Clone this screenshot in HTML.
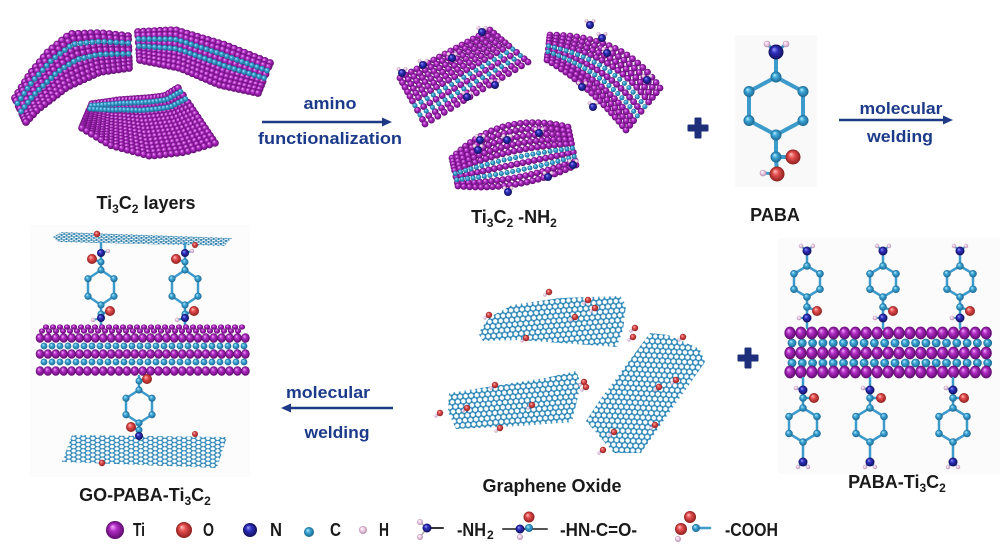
<!DOCTYPE html>
<html><head><meta charset="utf-8">
<style>
html,body{margin:0;padding:0;background:#fff;}
svg{display:block;}
text{font-family:"Liberation Sans",Arial,sans-serif;font-weight:bold;}
</style></head><body>
<svg id="s" width="1005" height="554" viewBox="0 0 1005 554" xmlns="http://www.w3.org/2000/svg">
<defs>
<radialGradient id="gTi" cx="0.5" cy="0.5" r="0.5" fx="0.35" fy="0.3"><stop offset="0" stop-color="#f2b0fa"/><stop offset="0.4" stop-color="#b32cc6"/><stop offset="1" stop-color="#5c0a6c"/></radialGradient>
<radialGradient id="gC" cx="0.5" cy="0.5" r="0.5" fx="0.35" fy="0.3"><stop offset="0" stop-color="#c0f0ff"/><stop offset="0.4" stop-color="#3fa9d9"/><stop offset="1" stop-color="#1b6690"/></radialGradient>
<radialGradient id="gN" cx="0.5" cy="0.5" r="0.5" fx="0.35" fy="0.3"><stop offset="0" stop-color="#a0a0ff"/><stop offset="0.4" stop-color="#3030c0"/><stop offset="1" stop-color="#10105a"/></radialGradient>
<radialGradient id="gO" cx="0.5" cy="0.5" r="0.5" fx="0.35" fy="0.3"><stop offset="0" stop-color="#ffc4c4"/><stop offset="0.4" stop-color="#e65050"/><stop offset="1" stop-color="#8e1e1e"/></radialGradient>
<radialGradient id="gH" cx="0.5" cy="0.5" r="0.5" fx="0.35" fy="0.3"><stop offset="0" stop-color="#ffffff"/><stop offset="0.45" stop-color="#f2d2ea"/><stop offset="1" stop-color="#b48cac"/></radialGradient>
<pattern id="hc" width="5.54" height="9.6" patternUnits="userSpaceOnUse" patternTransform="rotate(-5)">
<path d="M0,1.6L2.77,0L5.54,1.6M0,1.6L0,4.8M5.54,1.6L5.54,4.8M0,4.8L2.77,6.4L5.54,4.8M2.77,6.4L2.77,9.6" stroke="#3a98c8" stroke-width="1.4" fill="none"/>
<g fill="#2a80b0"><circle cx="2.77" cy="0" r="1.1"/><circle cx="2.77" cy="6.4" r="1.1"/><circle cx="2.77" cy="9.6" r="1.1"/><circle cx="0" cy="1.6" r="1.1"/><circle cx="5.54" cy="1.6" r="1.1"/><circle cx="0" cy="4.8" r="1.1"/><circle cx="5.54" cy="4.8" r="1.1"/></g>
</pattern>
<pattern id="hc3" width="5.54" height="9.6" patternUnits="userSpaceOnUse" patternTransform="rotate(-57)">
<path d="M0,1.6L2.77,0L5.54,1.6M0,1.6L0,4.8M5.54,1.6L5.54,4.8M0,4.8L2.77,6.4L5.54,4.8M2.77,6.4L2.77,9.6" stroke="#3a98c8" stroke-width="1.4" fill="none"/>
<g fill="#2a80b0"><circle cx="2.77" cy="0" r="1.1"/><circle cx="2.77" cy="6.4" r="1.1"/><circle cx="2.77" cy="9.6" r="1.1"/><circle cx="0" cy="1.6" r="1.1"/><circle cx="5.54" cy="1.6" r="1.1"/><circle cx="0" cy="4.8" r="1.1"/><circle cx="5.54" cy="4.8" r="1.1"/></g>
</pattern>
<pattern id="hct" width="5.54" height="9.6" patternUnits="userSpaceOnUse" patternTransform="rotate(2) scale(0.9,0.35)">
<path d="M0,1.6L2.77,0L5.54,1.6M0,1.6L0,4.8M5.54,1.6L5.54,4.8M0,4.8L2.77,6.4L5.54,4.8M2.77,6.4L2.77,9.6" stroke="#2f8fc0" stroke-width="1.4" fill="none"/>
<g fill="#1f6f9c"><circle cx="2.77" cy="0" r="1.2"/><circle cx="2.77" cy="6.4" r="1.2"/><circle cx="0" cy="1.6" r="1.2"/><circle cx="5.54" cy="1.6" r="1.2"/><circle cx="0" cy="4.8" r="1.2"/><circle cx="5.54" cy="4.8" r="1.2"/></g>
</pattern>
<pattern id="hcb" width="5.54" height="9.6" patternUnits="userSpaceOnUse" patternTransform="rotate(90) scale(0.75,1)">
<path d="M0,1.6L2.77,0L5.54,1.6M0,1.6L0,4.8M5.54,1.6L5.54,4.8M0,4.8L2.77,6.4L5.54,4.8M2.77,6.4L2.77,9.6" stroke="#3a98c8" stroke-width="1.3" fill="none"/>
<g fill="#2a80b0"><circle cx="2.77" cy="0" r="1.1"/><circle cx="2.77" cy="6.4" r="1.1"/><circle cx="2.77" cy="9.6" r="1.1"/><circle cx="0" cy="1.6" r="1.1"/><circle cx="5.54" cy="1.6" r="1.1"/><circle cx="0" cy="4.8" r="1.1"/><circle cx="5.54" cy="4.8" r="1.1"/></g>
</pattern>
</defs>

<!-- faint panels -->
<rect x="735" y="35" width="82" height="152" fill="#f9f9f9"/>
<rect x="778" y="238" width="222" height="236" fill="#fbfbfb"/>
<rect x="30" y="225" width="220" height="252" fill="#fcfcfc"/>

<!-- graphene sheets -->
<polygon points="478,333 490,317 512,305 560,298 620,296 626,305 623,330 617,347 560,343 520,340 483,341" fill="url(#hc)"/>
<polygon points="449,393 500,385 545,378 576,371 581,384 572,422 520,426 456,429 448,412" fill="url(#hc)"/>
<polygon points="650,333 668,335 700,349 705,362 641,453 614,453 586,421 600,400" fill="url(#hc3)"/>
<polygon points="53,237 62,232 232,238 224,246 58,242" fill="url(#hct)"/>
<polygon points="72,435 227,437 217,468 62,462" fill="url(#hcb)"/>

<!-- plus signs -->
<g fill="#1d2f7a">
<rect x="687.5" y="124.5" width="21" height="7" rx="1"/><rect x="694.5" y="117.5" width="7" height="21" rx="1"/>
<rect x="737.5" y="354.5" width="21" height="7" rx="1"/><rect x="744.5" y="347.5" width="7" height="21" rx="1"/>
</g>

<!-- arrows -->
<g stroke="#1f3a85" stroke-width="2.5" fill="none">
<line x1="262" y1="122" x2="384" y2="122"/>
<line x1="839" y1="120" x2="945" y2="120"/>
<line x1="289" y1="408" x2="393" y2="408"/>
</g>
<g fill="#1f3a85">
<polygon points="392,122 382,117.5 382,126.5"/>
<polygon points="953,120 943,115.5 943,124.5"/>
<polygon points="281,408 291,403.5 291,412.5"/>
</g>

<g id="mol"></g>

<!-- arrow texts -->
<g fill="#1c3a8a" font-size="17">
<text x="330" y="109" text-anchor="middle" textLength="53" lengthAdjust="spacingAndGlyphs">amino</text>
<text x="330" y="144" text-anchor="middle" textLength="144" lengthAdjust="spacingAndGlyphs">functionalization</text>
<text x="901" y="114" text-anchor="middle" textLength="83" lengthAdjust="spacingAndGlyphs">molecular</text>
<text x="900" y="142" text-anchor="middle" textLength="66" lengthAdjust="spacingAndGlyphs">welding</text>
<text x="328" y="398" text-anchor="middle" textLength="84" lengthAdjust="spacingAndGlyphs">molecular</text>
<text x="337" y="438" text-anchor="middle" textLength="65" lengthAdjust="spacingAndGlyphs">welding</text>
</g>

<!-- labels -->
<g fill="#1a1a1a" font-size="18">
<text x="146" y="209" text-anchor="middle">Ti<tspan font-size="12" dy="4">3</tspan><tspan dy="-4">C</tspan><tspan font-size="12" dy="4">2</tspan><tspan dy="-4"> layers</tspan></text>
<text x="514" y="223" text-anchor="middle">Ti<tspan font-size="12" dy="4">3</tspan><tspan dy="-4">C</tspan><tspan font-size="12" dy="4">2</tspan><tspan dy="-4"> -NH</tspan><tspan font-size="12" dy="4">2</tspan></text>
<text x="775" y="221" text-anchor="middle">PABA</text>
<text x="145" y="501" text-anchor="middle">GO-PABA-Ti<tspan font-size="12" dy="4">3</tspan><tspan dy="-4">C</tspan><tspan font-size="12" dy="4">2</tspan></text>
<text x="552" y="492" text-anchor="middle">Graphene Oxide</text>
<text x="897" y="488" text-anchor="middle">PABA-Ti<tspan font-size="12" dy="4">3</tspan><tspan dy="-4">C</tspan><tspan font-size="12" dy="4">2</tspan></text>
</g>

<!-- legend text -->
<g fill="#1a1a1a" font-size="18">
<text x="133" y="536" textLength="12" lengthAdjust="spacingAndGlyphs">Ti</text>
<text x="203" y="536" textLength="11" lengthAdjust="spacingAndGlyphs">O</text>
<text x="270" y="536" textLength="12" lengthAdjust="spacingAndGlyphs">N</text>
<text x="330" y="536" textLength="11" lengthAdjust="spacingAndGlyphs">C</text>
<text x="379" y="536" textLength="10" lengthAdjust="spacingAndGlyphs">H</text>
<text x="457" y="536" textLength="29" lengthAdjust="spacingAndGlyphs">-NH</text>
<text x="487" y="539" font-size="12">2</text>
<text x="560" y="536" textLength="77" lengthAdjust="spacingAndGlyphs">-HN-C=O-</text>
<text x="725" y="536" textLength="53" lengthAdjust="spacingAndGlyphs">-COOH</text>
</g>
</svg>
<script>
const NS='http://www.w3.org/2000/svg';
const G=document.getElementById('mol');
function el(t,a){const e=document.createElementNS(NS,t);for(const k in a)e.setAttribute(k,a[k]);G.appendChild(e);return e;}
function at(x,y,r,t,ry){return ry?el('ellipse',{cx:x,cy:y,rx:r,ry:ry,fill:'url(#g'+t+')'}):el('circle',{cx:x,cy:y,r:r,fill:'url(#g'+t+')'});}
function bd(a,b,w,c){el('line',{x1:a[0],y1:a[1],x2:b[0],y2:b[1],stroke:c||'#3d9bcb','stroke-width':w||2.5,'stroke-linecap':'round'});}
function Q(p0,p1,p2){const o=[];for(let i=0;i<=16;i++){const t=i/16,u=1-t;o.push([u*u*p0[0]+2*u*t*p1[0]+t*t*p2[0],u*u*p0[1]+2*u*t*p1[1]+t*t*p2[1]]);}return o;}
function pl(P,t){const L=[0];for(let i=1;i<P.length;i++)L.push(L[i-1]+Math.hypot(P[i][0]-P[i-1][0],P[i][1]-P[i-1][1]));const d=t*L[L.length-1];for(let i=1;i<P.length;i++){if(d<=L[i]||i===P.length-1){const s=(d-L[i-1])/((L[i]-L[i-1])||1);return[P[i-1][0]+(P[i][0]-P[i-1][0])*s,P[i-1][1]+(P[i][1]-P[i-1][1])*s];}}return P[P.length-1];}
function rows(n,c){const a=[];for(let j=0;j<n;j++)a.push([j/(n-1),c.indexOf(j)>=0?'C':'Ti']);return a;}
function slab(A,B,R,nu,r){const ord=R.filter(q=>q[1]!=='C').concat(R.filter(q=>q[1]==='C'));for(const [v,t] of ord){for(let i=0;i<nu;i++){const u=i/(nu-1);const a=pl(A,u),b=pl(B,u);at(a[0]+(b[0]-a[0])*v,a[1]+(b[1]-a[1])*v,t==='C'?r*0.75:r,t);}}}
function nh2(x,y){at(x-3.5,y-4,1.9,'H');at(x+3.5,y-4,1.9,'H');at(x,y,4,'N');}
function ring(cx,top,h,w){return[[cx,top],[cx+w,top+h/4],[cx+w,top+3*h/4],[cx,top+h],[cx-w,top+3*h/4],[cx-w,top+h/4]];}
function drawRing(R,wb,rc){for(let i=0;i<6;i++)bd(R[i],R[(i+1)%6],wb);R.forEach(p=>at(p[0],p[1],rc,'C'));}

/* Ti3C2 layers */
slab([[128,36],[100,33],[70,34],[48,52],[30,74],[15,98]],[[129,68],[100,72],[67,87],[37,110],[26,122]],rows(10,[2,5]),24,3.9);
slab([[138,32],[175,30],[225,45],[270,63]],[[140,60],[180,68],[220,85],[258,93]],rows(9,[2,4]),26,3.9);
slab([[92,104],[120,100],[150,98],[165,96],[178,88]],[[82,128],[110,145],[150,156],[185,152],[215,143]],rows(16,[1,3]),26,3.8);

/* Ti3C2-NH2 */
slab(Q([400,78],[445,54],[490,30]),Q([425,124],[476,93],[528,62]),rows(11,[6,8]),17,3.4);
slab(Q([550,35],[625,35],[660,88]),Q([547,60],[590,85],[626,130]),rows(10,[4,6]),20,3.4);
slab(Q([452,158],[500,110],[568,127]),Q([458,186],[520,192],[576,165]),rows(10,[5,7]),22,3.4);
[[402,73],[423,65],[452,58],[482,32],[495,85],[467,97],[590,25],[602,38],[607,53],[647,80],[593,107],[582,87],[480,140],[507,140],[478,150],[539,133],[573,165],[548,177],[508,192]].forEach(p=>nh2(p[0],p[1]));

/* PABA */
(function(){const x=776;const R=ring(x,77,58,27);
bd([x,52],R[0],4);bd(R[3],[x,157],4);bd([x,157],[793,157],4);bd([x,157],[777,174],4);bd([777,174],[763,173],3);
bd([x,52],[767,44],3);bd([x,52],[786,44],3);
drawRing(R,4,5.5);
at(767,44,3.3,'H');at(786,44,3.3,'H');at(x,52,7.5,'N');
at(x,157,5.5,'C');at(793,157,7.5,'O');at(763,173,3.3,'H');at(777,174,7.5,'O');})();

/* PABA-Ti3C2 */
[807,883,960].forEach(x=>{const R=ring(x,266,31,13);
 bd([x,251],R[0]);bd(R[3],[x,307]);bd([x,307],[x+10,311]);bd([x,307],[x,328]);bd([x,318],[x-8,318],2);
 bd([x,251],[x-6,246],2);bd([x,251],[x+6,246],2);
 drawRing(R,2.5,3.8);
 at(x-6,246,2.2,'H');at(x+6,246,2.2,'H');at(x,251,4.5,'N');
 at(x,307,3.8,'C');at(x+10,311,5,'O');at(x-8,318,2.3,'H');at(x,318,4.5,'N');});
[343,363].forEach(y=>{for(let i=0;i<20;i++)at(792+i*10.3,y,4.4,'C');});
[333,353,372].forEach(y=>{for(let i=0;i<19;i++)at(790+i*10.9,y,5.6,'Ti',6.4);});
[803,870,953].forEach(x=>{const R=ring(x,408,34,14);
 bd([x,378],[x,390]);bd([x,390],[x,398]);bd([x,398],[x+11,398]);bd([x,398],R[0]);bd(R[3],[x,462]);bd([x,462],[x-5,467],2);bd([x,462],[x+5,467],2);bd([x,390],[x-7,388],2);
 drawRing(R,2.5,3.8);
 at(x-7,388,2.3,'H');at(x,390,4.5,'N');at(x,398,3.8,'C');at(x+11,398,5,'O');
 at(x-5,467,2.2,'H');at(x+5,467,2.2,'H');at(x,462,4.5,'N');});

/* GO sheet decorations */
function og(x,y){bd([x,y],[x-4,y+3],1.5,'#8a78d8');at(x-4,y+3,1.6,'H');at(x,y,3.2,'O');}
[[489,315],[549,292],[588,300],[595,308],[635,328],[633,337],[526,338],[575,317],[584,382],[586,387],[532,405],[467,408],[500,428],[440,413],[659,387],[676,380],[614,432],[603,450],[683,337],[655,425],[495,385]].forEach(p=>og(p[0],p[1]));

/* GO-PABA-Ti3C2 */
at(97,234,3.2,'O');at(195,245,3,'O');at(195,434,3,'O');at(102,463,3.2,'O');
[101,185].forEach(x=>{const R=ring(x,270,35,13);
 bd([x,243],[x,253]);bd([x,253],[x,262]);bd([x,262],[x-9,259]);bd([x,262],R[0]);bd(R[3],[x,314]);bd([x,314],[x+9,311]);bd([x,314],[x,326]);bd([x,318],[x-8,320],2);bd([x,253],[x+7,251],2);
 drawRing(R,2.5,3.6);
 at(x+7,251,2,'H');at(x,253,4,'N');at(x,262,3.5,'C');at(x-9,259,5,'O');
 at(x,314,3.5,'C');at(x+9,311,5,'O');at(x-8,320,2.2,'H');at(x,318,4,'N');});
[327,331].forEach((y,k)=>{for(let i=0;i<29;i++)at(46+k*-4+i*7,y,3.1,'Ti',2.6);});
[346,362].forEach(y=>{for(let i=0;i<26;i++)at(44+i*8,y,3.4,'C');});
[338,354,371].forEach(y=>{for(let i=0;i<27;i++)at(40+i*7.9,y,4.3,'Ti',4.8);});
(function(){const x=139;const R=ring(x,390,33,13);
 bd([x,376],[x,381]);bd([x,381],[x+8,379]);bd([x,381],R[0]);bd(R[3],[x,430]);bd([x,430],[x-8,427]);bd([x,430],[x,437]);
 drawRing(R,2.5,3.6);
 at(x,381,3.5,'C');at(x+8,379,5,'O');at(x,430,3.5,'C');at(x-8,427,5,'O');at(x,436,4,'N');})();

/* legend */
at(115,530,9,'Ti');at(184,530,8,'O');at(250,530,7,'N');at(309,532,5,'C');at(363,530,4,'H');
bd([427,528],[443,528],2,'#333');bd([427,528],[420,522],1.5,'#aaa');bd([427,528],[420,537],1.5,'#aaa');
at(420,522,3,'H');at(420,537,3,'H');at(427,528,4.5,'N');
bd([503,529],[547,529],2,'#555');at(520,537,3,'H');at(529,517,5.5,'O');at(520,529,4.5,'N');at(529,528,4,'C');
bd([696,528],[710,528],2.5);at(678,539,3,'H');at(681,529,6,'O');at(690,517,6,'O');at(696,528,4,'C');
</script>
</body></html>
